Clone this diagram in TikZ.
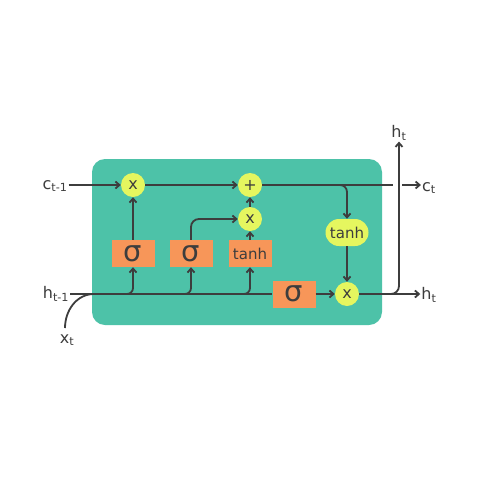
\documentclass[tikz,border=0pt]{standalone}
\usepackage{fontspec}
\setmainfont{DejaVu Sans}
\usetikzlibrary{arrows.meta,shapes.geometric,shapes.misc}
\definecolor{cell}{HTML}{4DC2A8}
\definecolor{gate}{HTML}{F79659}
\definecolor{op}{HTML}{E5F65F}
\definecolor{ln}{HTML}{3D3D3D}
\tikzset{
  gatebox/.style={fill=gate,minimum width=43pt,minimum height=27pt,inner sep=0pt,text=ln},
  opcirc/.style={circle,fill=op,minimum size=24pt,inner sep=0pt,text=ln,font=\fontsize{16}{16}\selectfont},
  opell/.style={rounded rectangle,fill=op,minimum width=43pt,minimum height=27pt,inner sep=0pt,text=ln,font=\fontsize{15}{15}\selectfont},
  lbl/.style={text=ln,inner sep=1pt,font=\fontsize{16}{16}\selectfont},
  wire/.style={draw=ln,line width=1.8pt},
  arr/.style={wire,-{Straight Barb[length=4pt,width=7pt]}},
  sig/.style={gatebox,font=\fontsize{29}{29}\selectfont},
  tanhbox/.style={gatebox,font=\fontsize{15}{15}\selectfont},
}
\begin{document}
\begin{tikzpicture}[x=1pt,y=-1pt]
\useasboundingbox (0,0) rectangle (480,480);
\fill[white] (0,0) rectangle (480,480);
\fill[cell,rounded corners=13pt] (92,159) rectangle (382,325);
% nodes
\node[opcirc] (x1) at (133,185) {x};
\node[opcirc] (plus) at (250,185) {+};
\node[opcirc] (x2) at (250,219) {x};
\node[opcirc] (x3) at (347,294) {x};
\node[opell] (tanh2) at (347,232.5) {tanh};
\node[sig] (sig1) at (133,253.5) {σ};
\node[sig] (sig2) at (191,253.5) {σ};
\node[tanhbox] (tanhb) at (250,253.5) {tanh};
\node[sig] (sig3) at (294,294) {σ};
\node[lbl] (cprev) at (55,186) {c\textsubscript{t-1}};
\node[lbl] (hprev) at (56,294) {h\textsubscript{t-1}};
\node[lbl] (xt) at (67,340) {x\textsubscript{t}};
\node[lbl] (ct) at (429,188) {c\textsubscript{t}};
\node[lbl] (hout) at (429,295) {h\textsubscript{t}};
\node[lbl] (htop) at (399,133) {h\textsubscript{t}};
\coordinate (cend) at (393,185);
\coordinate (cgap) at (402,185);
\coordinate (cbr) at (338,185);
\coordinate (b1) at (112,294);
\coordinate (b2) at (170,294);
\coordinate (b3) at (228,294);
\coordinate (xj) at (94,294);
% connectors
\draw[arr] (cprev.east |- x1.west) -- (x1.west);
\draw[arr] (x1.east) -- (plus.west);
\draw[wire] (plus.east) -- (cend);
\draw[arr] (cgap) -- (ct.west |- cgap);
\draw[arr,rounded corners=7pt] (cbr) -| (tanh2.north);
\draw[arr] (tanh2.south) -- (x3.north);
\draw[wire] (hprev.east |- sig3.west) -- (sig3.west);
\draw[wire] (65,328) to[out=90,in=180] (xj);
\draw[arr] (sig3.east) -- (x3.west);
\draw[arr] (x3.east) -- (hout.west |- x3.east);
\draw[arr,rounded corners=8pt] (x3.east) -| (htop.south);
\draw[arr,rounded corners=6pt] (b1) -| (sig1.south);
\draw[arr,rounded corners=6pt] (b2) -| (sig2.south);
\draw[arr,rounded corners=6pt] (b3) -| (tanhb.south);
\draw[arr] (sig1.north) -- (x1.south);
\draw[arr,rounded corners=8pt] (sig2.north) |- (x2.west);
\draw[arr] (tanhb.north) -- (x2.south);
\draw[arr] (x2.north) -- (plus.south);
\end{tikzpicture}
\end{document}
